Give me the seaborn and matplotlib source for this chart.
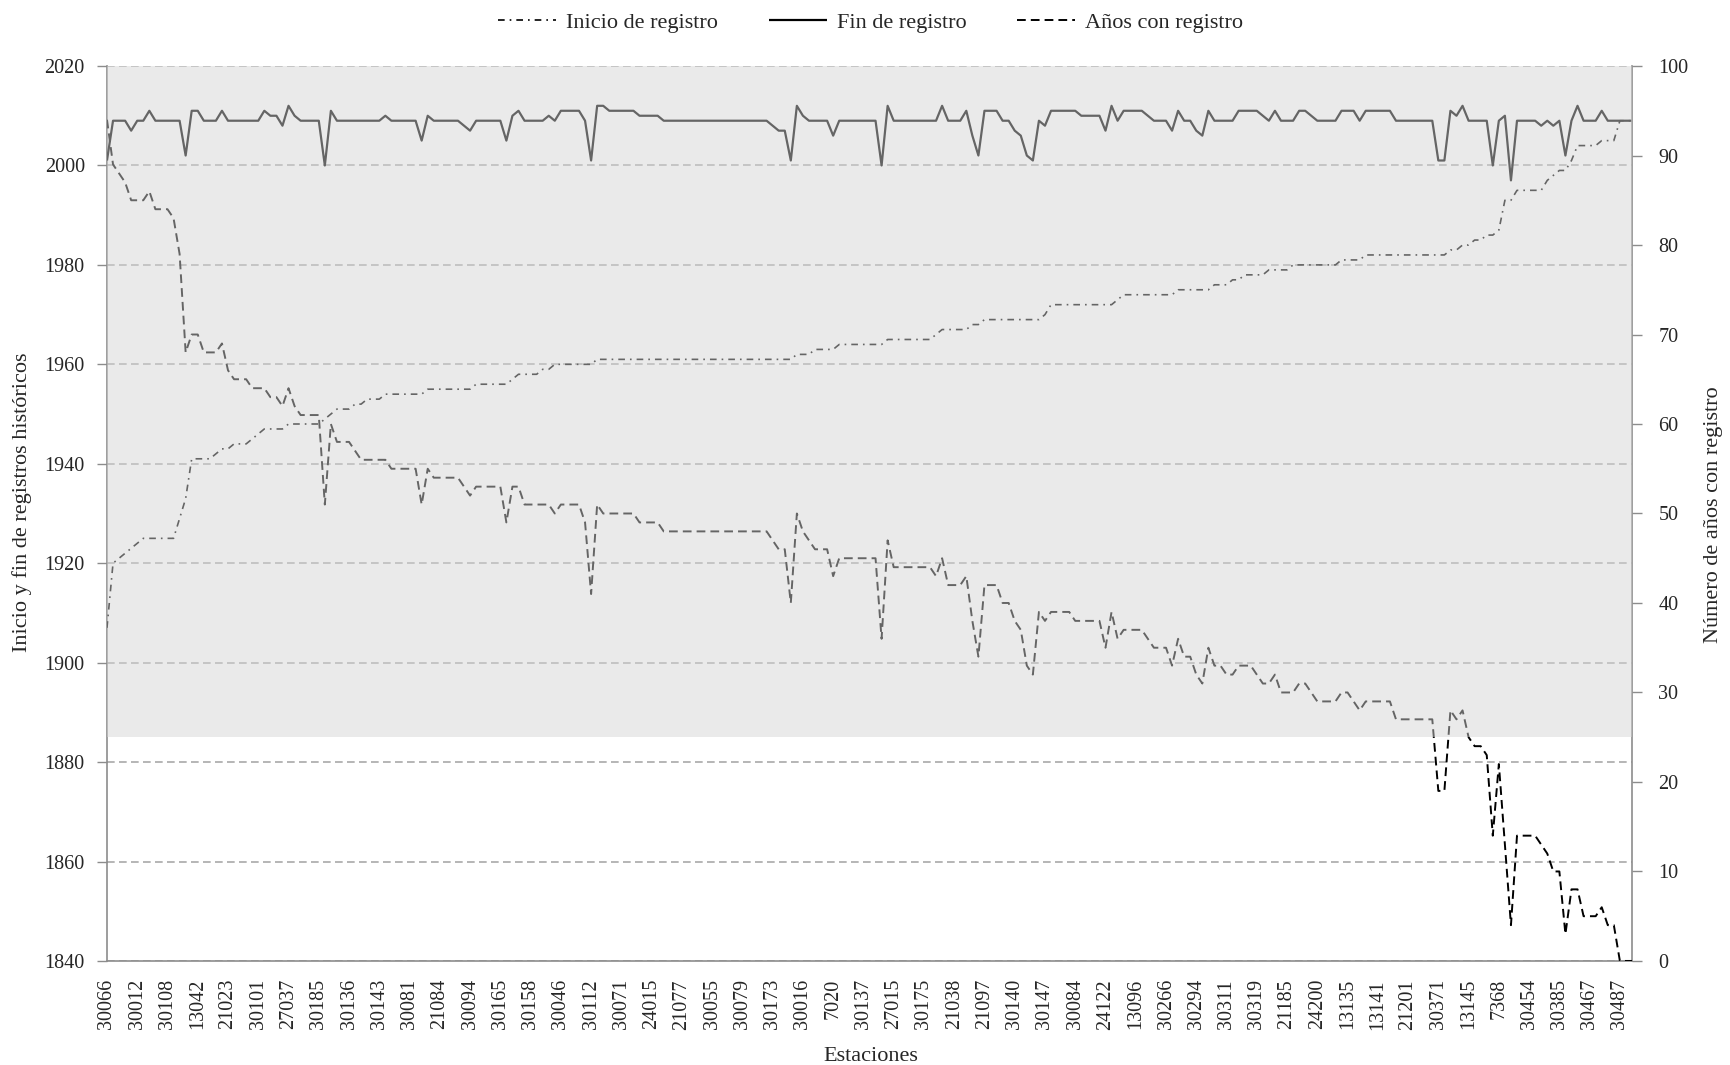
import matplotlib
matplotlib.use("Agg")
import matplotlib.pyplot as plt
from matplotlib.patches import Rectangle
from matplotlib.lines import Line2D
import numpy as np
import pandas as pd
import seaborn as sns

# ---------------- data ----------------
tick_labels = ["30066", "30012", "30108", "13042", "21023", "30101", "27037", "30185", "30136", "30143",
               "30081", "21084", "30094", "30165", "30158", "30046", "30112", "30071", "24015", "21077",
               "30055", "30079", "30173", "30016", "7020", "30137", "27015", "30175", "21038", "21097",
               "30140", "30147", "30084", "24122", "13096", "30266", "30294", "30311", "30319", "21185",
               "24200", "13135", "13141", "21201", "30371", "13145", "7368", "30454", "30385", "30467",
               "30487"]

inicio = [
    1907, 1920, 1921, 1922, 1923, 1924, 1925, 1925, 1925, 1925,
    1925, 1925, 1929, 1933, 1941, 1941, 1941, 1941, 1942, 1943,
    1943, 1944, 1944, 1944, 1945, 1946, 1947, 1947, 1947, 1947,
    1948, 1948, 1948, 1948, 1948, 1948, 1949, 1950, 1951, 1951,
    1951, 1952, 1952, 1953, 1953, 1953, 1954, 1954, 1954, 1954,
    1954, 1954, 1954, 1955, 1955, 1955, 1955, 1955, 1955, 1955,
    1955, 1956, 1956, 1956, 1956, 1956, 1956, 1957, 1958, 1958,
    1958, 1958, 1959, 1959, 1960, 1960, 1960, 1960, 1960, 1960,
    1960, 1961, 1961, 1961, 1961, 1961, 1961, 1961, 1961, 1961,
    1961, 1961, 1961, 1961, 1961, 1961, 1961, 1961, 1961, 1961,
    1961, 1961, 1961, 1961, 1961, 1961, 1961, 1961, 1961, 1961,
    1961, 1961, 1961, 1961, 1962, 1962, 1962, 1963, 1963, 1963,
    1963, 1964, 1964, 1964, 1964, 1964, 1964, 1964, 1964, 1965,
    1965, 1965, 1965, 1965, 1965, 1965, 1965, 1966, 1967, 1967,
    1967, 1967, 1967, 1968, 1968, 1969, 1969, 1969, 1969, 1969,
    1969, 1969, 1969, 1969, 1969, 1970, 1972, 1972, 1972, 1972,
    1972, 1972, 1972, 1972, 1972, 1972, 1972, 1973, 1974, 1974,
    1974, 1974, 1974, 1974, 1974, 1974, 1974, 1975, 1975, 1975,
    1975, 1975, 1975, 1976, 1976, 1976, 1977, 1977, 1978, 1978,
    1978, 1978, 1979, 1979, 1979, 1979, 1980, 1980, 1980, 1980,
    1980, 1980, 1980, 1980, 1981, 1981, 1981, 1981, 1982, 1982,
    1982, 1982, 1982, 1982, 1982, 1982, 1982, 1982, 1982, 1982,
    1982, 1982, 1983, 1983, 1984, 1984, 1985, 1985, 1986, 1986,
    1987, 1993, 1993, 1995, 1995, 1995, 1995, 1995, 1997, 1998,
    1999, 1999, 2001, 2004, 2004, 2004, 2004, 2005, 2005, 2005,
    2009, 2009, 2009,
]

fin = [
    2001, 2009, 2009, 2009, 2007, 2009, 2009, 2011, 2009, 2009,
    2009, 2009, 2009, 2002, 2011, 2011, 2009, 2009, 2009, 2011,
    2009, 2009, 2009, 2009, 2009, 2009, 2011, 2010, 2010, 2008,
    2012, 2010, 2009, 2009, 2009, 2009, 2000, 2011, 2009, 2009,
    2009, 2009, 2009, 2009, 2009, 2009, 2010, 2009, 2009, 2009,
    2009, 2009, 2005, 2010, 2009, 2009, 2009, 2009, 2009, 2008,
    2007, 2009, 2009, 2009, 2009, 2009, 2005, 2010, 2011, 2009,
    2009, 2009, 2009, 2010, 2009, 2011, 2011, 2011, 2011, 2009,
    2001, 2012, 2012, 2011, 2011, 2011, 2011, 2011, 2010, 2010,
    2010, 2010, 2009, 2009, 2009, 2009, 2009, 2009, 2009, 2009,
    2009, 2009, 2009, 2009, 2009, 2009, 2009, 2009, 2009, 2009,
    2008, 2007, 2007, 2001, 2012, 2010, 2009, 2009, 2009, 2009,
    2006, 2009, 2009, 2009, 2009, 2009, 2009, 2009, 2000, 2012,
    2009, 2009, 2009, 2009, 2009, 2009, 2009, 2009, 2012, 2009,
    2009, 2009, 2011, 2006, 2002, 2011, 2011, 2011, 2009, 2009,
    2007, 2006, 2002, 2001, 2009, 2008, 2011, 2011, 2011, 2011,
    2011, 2010, 2010, 2010, 2010, 2007, 2012, 2009, 2011, 2011,
    2011, 2011, 2010, 2009, 2009, 2009, 2007, 2011, 2009, 2009,
    2007, 2006, 2011, 2009, 2009, 2009, 2009, 2011, 2011, 2011,
    2011, 2010, 2009, 2011, 2009, 2009, 2009, 2011, 2011, 2010,
    2009, 2009, 2009, 2009, 2011, 2011, 2011, 2009, 2011, 2011,
    2011, 2011, 2011, 2009, 2009, 2009, 2009, 2009, 2009, 2009,
    2001, 2001, 2011, 2010, 2012, 2009, 2009, 2009, 2009, 2000,
    2009, 2010, 1997, 2009, 2009, 2009, 2009, 2008, 2009, 2008,
    2009, 2002, 2009, 2012, 2009, 2009, 2009, 2011, 2009, 2009,
    2009, 2009, 2009,
]

anios = [
    94, 89, 88, 87, 85, 85, 85, 86, 84, 84,
    84, 83, 79, 68, 70, 70, 68, 68, 68, 69,
    66, 65, 65, 65, 64, 64, 64, 63, 63, 62,
    64, 62, 61, 61, 61, 61, 51, 60, 58, 58,
    58, 57, 56, 56, 56, 56, 56, 55, 55, 55,
    55, 55, 51, 55, 54, 54, 54, 54, 54, 53,
    52, 53, 53, 53, 53, 53, 49, 53, 53, 51,
    51, 51, 51, 51, 50, 51, 51, 51, 51, 49,
    41, 51, 50, 50, 50, 50, 50, 50, 49, 49,
    49, 49, 48, 48, 48, 48, 48, 48, 48, 48,
    48, 48, 48, 48, 48, 48, 48, 48, 48, 48,
    47, 46, 46, 40, 50, 48, 47, 46, 46, 46,
    43, 45, 45, 45, 45, 45, 45, 45, 36, 47,
    44, 44, 44, 44, 44, 44, 44, 43, 45, 42,
    42, 42, 43, 38, 34, 42, 42, 42, 40, 40,
    38, 37, 33, 32, 39, 38, 39, 39, 39, 39,
    38, 38, 38, 38, 38, 35, 39, 36, 37, 37,
    37, 37, 36, 35, 35, 35, 33, 36, 34, 34,
    32, 31, 35, 33, 33, 32, 32, 33, 33, 33,
    32, 31, 31, 32, 30, 30, 30, 31, 31, 30,
    29, 29, 29, 29, 30, 30, 29, 28, 29, 29,
    29, 29, 29, 27, 27, 27, 27, 27, 27, 27,
    19, 19, 28, 27, 28, 25, 24, 24, 23, 14,
    22, 13, 4, 14, 14, 14, 14, 13, 12, 10,
    10, 3, 8, 8, 5, 5, 5, 6, 4, 4,
    0, 0, 0,
]

legend_labels = ["Inicio de registro", "Fin de registro", "Años con registro"]

# ---------------- style ----------------
sns.set_style("white")
plt.rcParams["font.family"] = ["Liberation Serif", "DejaVu Serif"]
plt.rcParams["lines.solid_capstyle"] = "butt"

n = len(fin)
df = pd.DataFrame({"idx": np.arange(n), "inicio": inicio, "fin": fin, "anios": anios})

FS = 14.5
FS_TXT = 16
spine_c = "#8c8c8c"

fig = plt.figure(figsize=(17.31, 10.65), dpi=100)
ax = fig.add_axes([0.0618, 0.0977, 0.8810, 0.8403])

ls_ini = (0, (4, 3, 1, 3))
ls_ans = (0, (4.5, 2.6))

sns.lineplot(data=df, x="idx", y="inicio", ax=ax, color="black", lw=1.2,
             linestyle=ls_ini, legend=False, zorder=3)
sns.lineplot(data=df, x="idx", y="fin", ax=ax, color="black", lw=1.6,
             legend=False, zorder=3)

ax2 = ax.twinx()
sns.lineplot(data=df, x="idx", y="anios", ax=ax2, color="black", lw=1.4,
             linestyle=ls_ans, legend=False, zorder=3)

# axes ranges / ticks
ax.set_xlim(0, n - 1)
ax.set_ylim(1840, 2020)
ax.set_yticks(np.arange(1840, 2021, 20))
ax2.set_ylim(0, 100)
ax2.set_yticks(np.arange(0, 101, 10))

ax.set_xticks(np.arange(0, 5 * len(tick_labels), 5))
ax.set_xticklabels(tick_labels, rotation=90, fontsize=FS)
ax.set_xticks(np.arange(n), minor=True)

ax.tick_params(axis="x", which="both", direction="out", length=4, width=1,
               color=spine_c, pad=9, labelsize=FS)
ax.tick_params(axis="y", direction="out", length=7, width=1, color=spine_c,
               pad=9, labelsize=FS)
ax2.tick_params(axis="y", direction="out", length=7, width=1, color=spine_c,
                pad=12, labelsize=FS)

ax.set_xlabel("")
ax.set_ylabel("")
ax2.set_ylabel("")

# gridlines
ax.yaxis.grid(True, color="#a9a9a9", linestyle=(0, (4.6, 2.6)), lw=1.2)
ax.xaxis.grid(False)
ax.set_axisbelow(True)

# spines
for s in ["top"]:
    ax.spines[s].set_visible(False)
    ax2.spines[s].set_visible(False)
ax.spines["right"].set_visible(False)
ax2.spines["left"].set_visible(False)
ax2.spines["bottom"].set_visible(False)
for a, s in [(ax, "left"), (ax, "bottom"), (ax2, "right")]:
    a.spines[s].set_color(spine_c)
    a.spines[s].set_linewidth(1.2)

# translucent grey band over the upper part (drawn above the lines)
band = Rectangle((0, 1885), n - 1, 2020 - 1885, transform=ax.transData,
                 facecolor="#d5d5d5", edgecolor="none", alpha=0.478, zorder=10)
ax2.add_patch(band)

# labels
fig.text(22 / 1731, 0.528, "Inicio y fin de registros históricos", rotation=90,
         ha="center", va="center", fontsize=FS_TXT)
fig.text(1714 / 1731, 0.517, "Número de años con registro", rotation=90,
         ha="center", va="center", fontsize=FS_TXT)
fig.text(0.503, 0.008, "Estaciones", ha="center", va="center", fontsize=FS_TXT)

# legend
handles = [
    Line2D([0], [0], color="black", lw=1.2, linestyle=ls_ini),
    Line2D([0], [0], color="black", lw=1.6),
    Line2D([0], [0], color="black", lw=1.4, linestyle=ls_ans),
]
fig.legend(handles, legend_labels, loc="center", bbox_to_anchor=(0.503, 0.979),
           ncol=3, frameon=False, handlelength=2.6, columnspacing=2.3,
           handletextpad=0.45, fontsize=FS_TXT)

fig.savefig("out.png", dpi=100)
